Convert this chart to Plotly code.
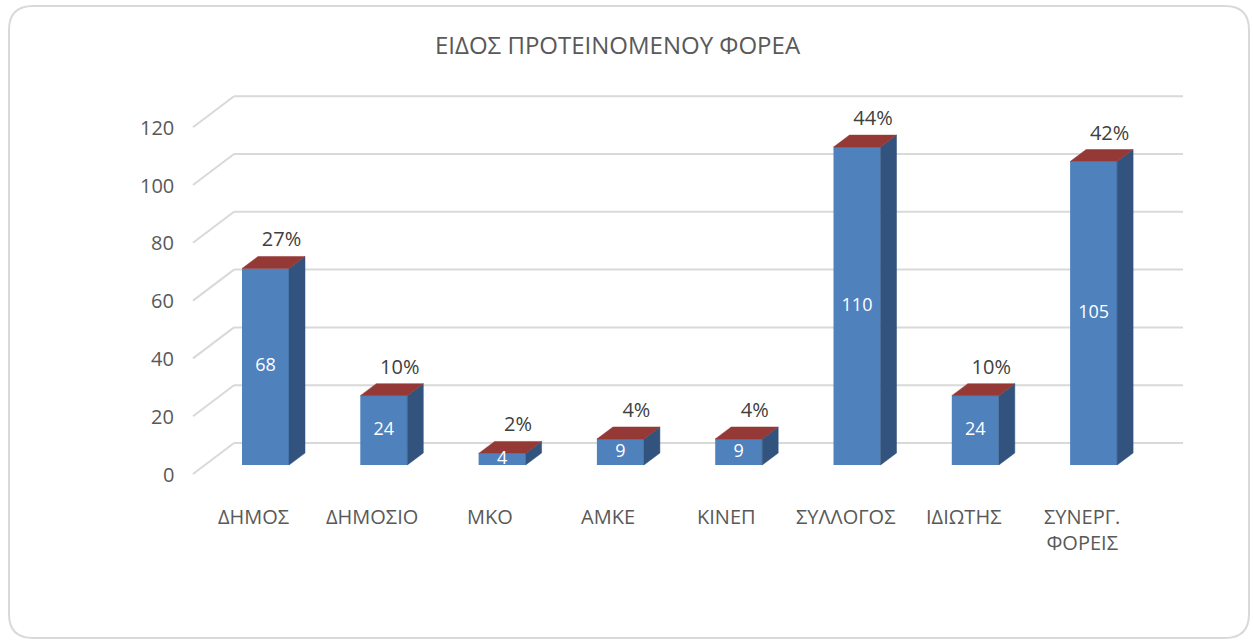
import plotly.graph_objects as go

# ---------------- data ----------------
categories = ["ΔΗΜΟΣ", "ΔΗΜΟΣΙΟ", "ΜΚΟ", "ΑΜΚΕ", "ΚΙΝΕΠ", "ΣΥΛΛΟΓΟΣ", "ΙΔΙΩΤΗΣ", "ΣΥΝΕΡΓ.<br>ΦΟΡΕΙΣ"]
values = [68, 24, 4, 9, 9, 110, 24, 105]
percent_labels = ["27%", "10%", "2%", "4%", "4%", "44%", "10%", "42%"]
y_ticks = [0, 20, 40, 60, 80, 100, 120]
title_text = "ΕΙΔΟΣ ΠΡΟΤΕΙΝΟΜΕΝΟΥ ΦΟΡΕΑ"

# ---------------- geometry / style ----------------
W, H = 1253, 642
X0_PX, STEP_PX = 265.5, 118.3      # pixel x of first category, px per category
Y0_PX, UNIT_PX = 465.0, 2.89       # pixel y of value 0 (bar front), px per unit

def ux(px):   # pixel x -> data x
    return (px - X0_PX) / STEP_PX

def uy(py):   # pixel y -> data y
    return (Y0_PX - py) / UNIT_PX

BAR_W = 47 / STEP_PX
DEPTH_X = 16 / STEP_PX
DEPTH_Y = 12 / UNIT_PX
BACK_X0, BACK_X1, BACK_DY = ux(234), ux(1183), 22 / UNIT_PX
FRONT_X, FRONT_DY = ux(193), -9 / UNIT_PX

FRONT_COL = "#4F81BD"
SIDE_COL = "#31537D"
TOP_COL = "#953937"
GRID_COL = "#D9D9D9"
TXT_COL = "#595959"
FONT = "Open Sans"

fig = go.Figure()

# front faces
x_idx = list(range(len(values)))
fig.add_trace(go.Bar(x=x_idx, y=values, width=BAR_W, marker=dict(color=FRONT_COL, line=dict(width=0)),
                     hoverinfo="skip"))

# side and top faces
sx, sy, tx, ty = [], [], [], []
for i, v in zip(x_idx, values):
    r = i + BAR_W / 2
    l = i - BAR_W / 2
    sx += [r, r + DEPTH_X, r + DEPTH_X, r, r, None]
    sy += [0, DEPTH_Y, v + DEPTH_Y, v, 0, None]
    tx += [l, r, r + DEPTH_X, l + DEPTH_X, l, None]
    ty += [v, v, v + DEPTH_Y, v + DEPTH_Y, v, None]
fig.add_trace(go.Scatter(x=sx, y=sy, mode="lines", fill="toself", fillcolor=SIDE_COL,
                         line=dict(color=SIDE_COL, width=0.5), hoverinfo="skip"))
fig.add_trace(go.Scatter(x=tx, y=ty, mode="lines", fill="toself", fillcolor=TOP_COL,
                         line=dict(color=TOP_COL, width=0.5), hoverinfo="skip"))

# values inside bars
fig.add_trace(go.Scatter(x=x_idx, y=[v / 2 for v in values], mode="text",
                         text=[str(v) for v in values], textposition="middle center",
                         textfont=dict(family=FONT, size=18, color="white"), hoverinfo="skip"))
# percentages above bars
fig.add_trace(go.Scatter(x=[i + DEPTH_X for i in x_idx],
                         y=[v + DEPTH_Y + 15 / UNIT_PX for v in values], mode="text",
                         text=percent_labels, textposition="middle center",
                         textfont=dict(family=FONT, size=20, color="#404040"), hoverinfo="skip"))

shapes = []
for t in y_ticks:
    shapes.append(dict(type="line", xref="x", yref="y", x0=BACK_X0, x1=BACK_X1,
                       y0=t + BACK_DY, y1=t + BACK_DY, line=dict(color=GRID_COL, width=2), layer="below"))
    shapes.append(dict(type="line", xref="x", yref="y", x0=BACK_X0, x1=FRONT_X,
                       y0=t + BACK_DY, y1=t + FRONT_DY, line=dict(color=GRID_COL, width=2), layer="below"))

# rounded border
def px(x):
    return x / W

def py(y):
    return 1 - y / H

bx0, by0, bx1, by1, rr = 9, 6, 1249, 638, 24
path = (f"M {px(bx0+rr)},{py(by0)} L {px(bx1-rr)},{py(by0)} Q {px(bx1)},{py(by0)} {px(bx1)},{py(by0+rr)} "
        f"L {px(bx1)},{py(by1-rr)} Q {px(bx1)},{py(by1)} {px(bx1-rr)},{py(by1)} "
        f"L {px(bx0+rr)},{py(by1)} Q {px(bx0)},{py(by1)} {px(bx0)},{py(by1-rr)} "
        f"L {px(bx0)},{py(by0+rr)} Q {px(bx0)},{py(by0)} {px(bx0+rr)},{py(by0)} Z")
shapes.append(dict(type="path", xref="paper", yref="paper", path=path,
                   line=dict(color=GRID_COL, width=2), layer="below"))

annotations = []
for t in y_ticks:
    annotations.append(dict(x=ux(176), y=t + FRONT_DY, xref="x", yref="y", text=str(t),
                            showarrow=False, xanchor="right", yanchor="middle",
                            font=dict(family=FONT, size=20, color=TXT_COL)))
for i, c in enumerate(categories):
    annotations.append(dict(x=i - 12 / STEP_PX, y=uy(501), xref="x", yref="y", text=c,
                            showarrow=False, xanchor="center", yanchor="top",
                            font=dict(family=FONT, size=20, color=TXT_COL)))
annotations.append(dict(x=px(618), y=py(45), xref="paper", yref="paper", text=title_text,
                        showarrow=False, xanchor="center", yanchor="middle",
                        font=dict(family=FONT, size=24, color=TXT_COL)))

fig.update_layout(
    width=W, height=H,
    margin=dict(l=0, r=0, t=0, b=0, pad=0, autoexpand=False),
    paper_bgcolor="white", plot_bgcolor="white",
    showlegend=False, hovermode=False,
    xaxis=dict(range=[ux(0), ux(W)], visible=False, fixedrange=True),
    yaxis=dict(range=[uy(H), uy(0)], visible=False, fixedrange=True),
    shapes=shapes, annotations=annotations,
)

fig.write_html("out.html", post_script="document.body.style.margin='0';document.body.style.overflow='hidden';",
               config={"displayModeBar": False})
